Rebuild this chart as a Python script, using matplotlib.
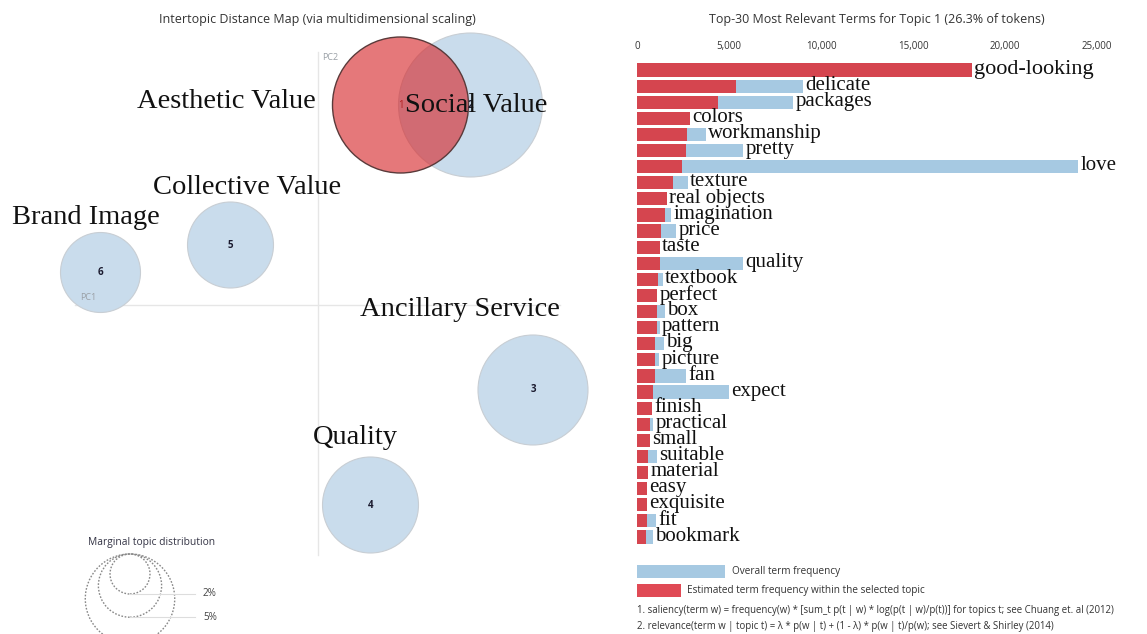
import numpy as np
import matplotlib
matplotlib.use("Agg")
import matplotlib.pyplot as plt
from matplotlib.patches import Circle, Rectangle

# ---------------- data ----------------
topic_ids = [1, 2, 3, 4, 5, 6]
topic_pc1 = [0.33, 0.61, 0.86, 0.21, -0.35, -0.87]
topic_pc2 = [0.80, 0.80, -0.34, -0.80, 0.24, 0.13]
topic_radius = [0.272, 0.288, 0.22, 0.192, 0.172, 0.16]
selected_topic = 1

topic_names = ["Aesthetic Value", "Social Value", "Collective Value", "Brand Image",
               "Ancillary Service", "Quality"]

marginal_pcts = [2, 5, 10]

terms = ["good-looking", "delicate", "packages", "colors", "workmanship", "pretty",
         "love", "texture", "real objects", "imagination", "price", "taste",
         "quality", "textbook", "perfect", "box", "pattern", "big", "picture", "fan",
         "expect", "finish", "practical", "small", "suitable", "material", "easy",
         "exquisite", "fit", "bookmark"]
overall_freq = [18200, 9020, 8480, 2880, 3750, 5760, 23970, 2770, 1630, 1850,
                2120, 1250, 5760, 1410, 1090, 1520, 1250, 1470, 1200, 2660,
                5000, 820, 870, 710, 1090, 600, 540, 540, 1030, 870]
topic_freq = [18200, 5380, 4400, 2880, 2720, 2660, 2450, 1960, 1630, 1520,
              1300, 1250, 1250, 1140, 1090, 1090, 1090, 980, 980, 980,
              870, 820, 710, 710, 600, 600, 540, 540, 540, 490]
freq_ticks = [0, 5000, 10000, 15000, 20000, 25000]

W, H = 1147, 634
fig = plt.figure(figsize=(W / 100, H / 100), dpi=100)
fig.patch.set_facecolor("white")

SANS = ["Open Sans", "DejaVu Sans"]
SERIF = ["Liberation Serif", "DejaVu Serif"]

# ---------------- left: intertopic distance map ----------------
S = 250.0  # px per unit
ax = fig.add_axes([0, 0, 620 / W, 1])
ax.set_xlim(-318 / S, (620 - 318) / S)
ax.set_ylim(-(634 - 305) / S, 305 / S)
ax.set_aspect("equal")
ax.axis("off")

ax.plot([0, 0], [(305 - 52) / S, (305 - 555) / S], color="#e6e6e6", lw=1, zorder=0)
ax.plot([(75 - 318) / S, (560 - 318) / S], [0, 0], color="#e6e6e6", lw=1, zorder=0)
ax.text((80 - 318) / S, (305 - 297) / S, "PC1", fontsize=6.5, color="#9aa0a6",
        family=SANS, va="center", ha="left", zorder=5)
ax.text((322 - 318) / S, (305 - 58) / S, "PC2", fontsize=6.5, color="#9aa0a6",
        family=SANS, va="center", ha="left", zorder=5)

order = [i for i in range(len(topic_ids)) if topic_ids[i] != selected_topic] + \
        [i for i in range(len(topic_ids)) if topic_ids[i] == selected_topic]
for i in order:
    tid = topic_ids[i]
    if tid == selected_topic:
        c = Circle((topic_pc1[i], topic_pc2[i]), topic_radius[i], facecolor=(0.84, 0.15, 0.16, 0.62),
                   edgecolor="#5a3a3a", lw=1.0, zorder=3)
        ax.add_patch(c)
        ax.text(topic_pc1[i], topic_pc2[i], str(tid), fontsize=7, color="#b22222",
                ha="center", va="center", family=SANS, zorder=4)
    else:
        c = Circle((topic_pc1[i], topic_pc2[i]), topic_radius[i], facecolor="#c9dcec",
                   edgecolor="#c8ced4", lw=0.8, zorder=2)
        ax.add_patch(c)
        ax.text(topic_pc1[i], topic_pc2[i], str(tid), fontsize=7, color="#1a1a2e",
                ha="center", va="center", family=SANS, fontweight="bold", zorder=4)

# topic name annotations (pixel positions converted)
name_pos = [(137, 102), (405, 105), (153, 188), (12, 218), (360, 309), (313, 438)]
for name, (px, py) in zip(topic_names, name_pos):
    ax.text((px - 318) / S, (305 - py) / S, name, fontsize=20.5, family=SERIF,
            color="#111111", ha="left", va="center", zorder=6)

# marginal topic distribution legend
ax.text((88 - 318) / S, (305 - 542) / S, "Marginal topic distribution", fontsize=7.4,
        family=SANS, color="#333344", ha="left", va="center")
r_base = 20 / S
top_y = (305 - 554) / S
cx = (130 - 318) / S
ybottom = -(634 - 305) / S
for p in marginal_pcts:
    r = r_base * np.sqrt(p / marginal_pcts[0])
    ax.add_patch(Circle((cx, top_y - r), r, facecolor="none", edgecolor="#888888",
                        lw=1.0, ls=(0, (1.2, 1.2))))
    yb = top_y - 2 * r
    if yb > ybottom:
        ax.plot([cx, (195 - 318) / S], [yb, yb], color="#dddddd", lw=0.8)
        ax.text((203 - 318) / S, yb, f"{p}%", fontsize=7.2, family=SANS, color="#444444",
                ha="left", va="center")

fig.text(317 / W, 1 - 20 / H, "Intertopic Distance Map (via multidimensional scaling)",
         fontsize=9, family=SANS, color="#333333", ha="center", va="center")

# ---------------- right: bar chart ----------------
top_px, row_h = 62, 16.1
n = len(terms)
ax2 = fig.add_axes([637 / W, 1 - (top_px + n * row_h) / H, (1134 - 637) / W, n * row_h / H])
ax2.set_xlim(0, 27000)
ax2.set_ylim(n - 0.5, -0.5)
y = np.arange(n)
ax2.barh(y, overall_freq, height=0.82, color="#a6c9e2", zorder=1)
ax2.barh(y, topic_freq, height=0.82, color="#d5454f", zorder=2)
for i, t in enumerate(terms):
    xe = max(overall_freq[i], topic_freq[i])
    ax2.text(xe + 120, i - 0.05, t, fontsize=15 if i else 16, family=SERIF, color="#111111",
             ha="left", va="center", zorder=3)
ax2.xaxis.tick_top()
ax2.set_xticks(freq_ticks)
ax2.set_xticklabels([f"{v:,}" for v in freq_ticks], fontsize=7, family=SANS, color="#333333")
ax2.tick_params(axis="x", length=0, pad=7)
ax2.set_yticks([])
for s in ax2.spines.values():
    s.set_visible(False)
ax2.patch.set_alpha(0)

fig.text(877 / W, 1 - 20 / H, "Top-30 Most Relevant Terms for Topic 1 (26.3% of tokens)",
         fontsize=9, family=SANS, color="#333333", ha="center", va="center")

# legend and notes
ov = fig.add_axes([0, 0, 1, 1], zorder=-1)
ov.set_xlim(0, W)
ov.set_ylim(H, 0)
ov.axis("off")
ov.add_patch(Rectangle((637, 565), 88, 13, facecolor="#a6c9e2", edgecolor="none"))
ov.add_patch(Rectangle((637, 584), 44, 13, facecolor="#e04a55", edgecolor="none"))
ov.text(732, 571.5, "Overall term frequency", fontsize=7.2, family=SANS, color="#333333",
        va="center", ha="left")
ov.text(687, 590.5, "Estimated term frequency within the selected topic", fontsize=7.2,
        family=SANS, color="#333333", va="center", ha="left")
ov.text(637, 610, "1. saliency(term w) = frequency(w) * [sum_t p(t | w) * log(p(t | w)/p(t))] for topics t; see Chuang et. al (2012)",
        fontsize=6.9, family=SANS, color="#333333", va="center", ha="left")
ov.text(637, 626, "2. relevance(term w | topic t) = \u03bb * p(w | t) + (1 - \u03bb) * p(w | t)/p(w); see Sievert & Shirley (2014)",
        fontsize=6.9, family=SANS, color="#333333", va="center", ha="left")

fig.savefig("out.png", dpi=100, facecolor="white")
